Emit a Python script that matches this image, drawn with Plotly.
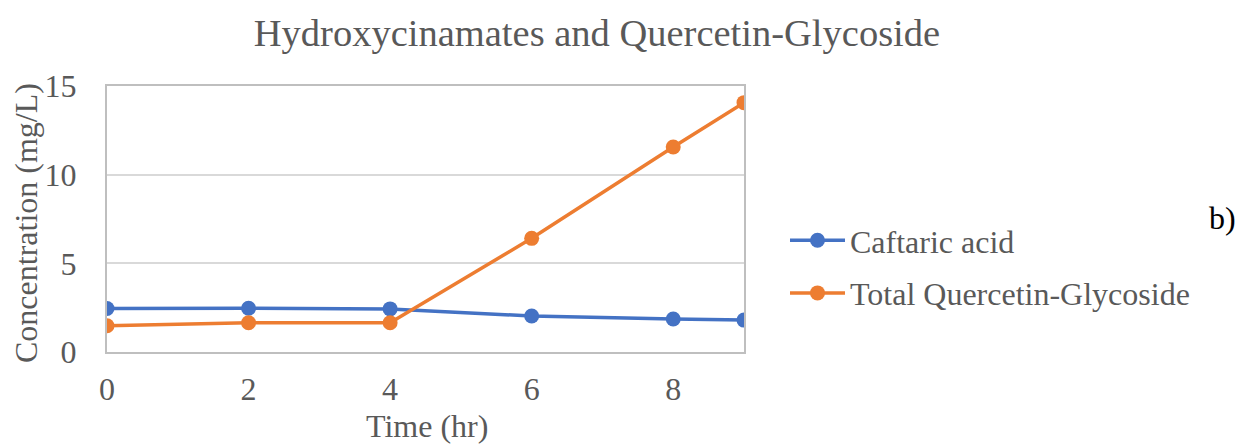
import plotly.graph_objects as go

time_hr = [0, 2, 4, 6, 8, 9]
caftaric = [2.45, 2.47, 2.43, 2.03, 1.86, 1.80]
quercetin = [1.48, 1.65, 1.65, 6.41, 11.56, 14.06]
x_ticks = [0, 2, 4, 6, 8]
y_ticks = [0, 5, 10, 15]

FONT = "Liberation Serif, Times New Roman, serif"
GREY = "#595959"

# page body has an 8px offset; compensate
W, H = 1235, 440
L, T, B = 99, 78, 96
R = W - 736
PW = 736 - L
PH = H - T - B


def px_x(x):
    return (x - 8 - L) / PW


def px_y(y):
    return 1 - (y - 8 - T) / PH


fig = go.Figure()
fig.add_trace(go.Scatter(x=time_hr, y=caftaric, mode="lines+markers", name="Caftaric acid",
                         legendgroup="a",
                         line=dict(color="#4472C4", width=3.5), marker=dict(size=15, color="#4472C4")))
fig.add_trace(go.Scatter(x=time_hr, y=quercetin, mode="lines+markers", name="Total Quercetin-Glycoside",
                         legendgroup="b",
                         line=dict(color="#ED7D31", width=3.5), marker=dict(size=15, color="#ED7D31")))

fig.update_layout(
    width=W, height=H,
    margin=dict(l=L, r=R, t=T, b=B, pad=0, autoexpand=False),
    paper_bgcolor="white", plot_bgcolor="white",
    font=dict(family=FONT, color=GREY, size=32),
    title=dict(text="Hydroxycinamates and Quercetin-Glycoside", x=(597 - 8) / W, xanchor="center",
               y=1 - (33 - 8) / H, yanchor="middle", font=dict(size=38.5, color=GREY, family=FONT)),
    showlegend=True,
    legend=dict(x=px_x(785), y=px_y(267), xanchor="left", yanchor="middle",
                font=dict(size=32, color=GREY),
                tracegroupgap=8, itemwidth=55, bgcolor="rgba(0,0,0,0)"),
    xaxis=dict(range=[0, 9], tickvals=x_ticks, showgrid=False, zeroline=False, automargin=False,
               showline=True, linecolor="#BFBFBF", linewidth=2, mirror=True,
               ticks="outside", ticklen=8, tickcolor="rgba(0,0,0,0)"),
    yaxis=dict(range=[0, 15], tickvals=y_ticks, showgrid=True, gridcolor="#D9D9D9", gridwidth=1.5,
               zeroline=False, showline=True, linecolor="#BFBFBF", linewidth=2, mirror=True, automargin=False,
               ticks="outside", ticklen=22, tickcolor="rgba(0,0,0,0)"),
)
fig.add_annotation(text="Time (hr)", xref="paper", yref="paper", x=px_x(427), y=px_y(426),
                   xanchor="center", yanchor="middle", showarrow=False,
                   font=dict(size=32, color=GREY, family=FONT))
fig.add_annotation(text="Concentration (mg/L)", xref="paper", yref="paper", x=px_x(26), y=px_y(223),
                   xanchor="center", yanchor="middle", showarrow=False, textangle=-90,
                   font=dict(size=32, color=GREY, family=FONT))
fig.add_annotation(text="b)", xref="paper", yref="paper", x=px_x(1238), y=px_y(218),
                   xanchor="right", yanchor="middle", showarrow=False,
                   font=dict(size=32, color="black", family=FONT))

fig.write_html("out.html")
